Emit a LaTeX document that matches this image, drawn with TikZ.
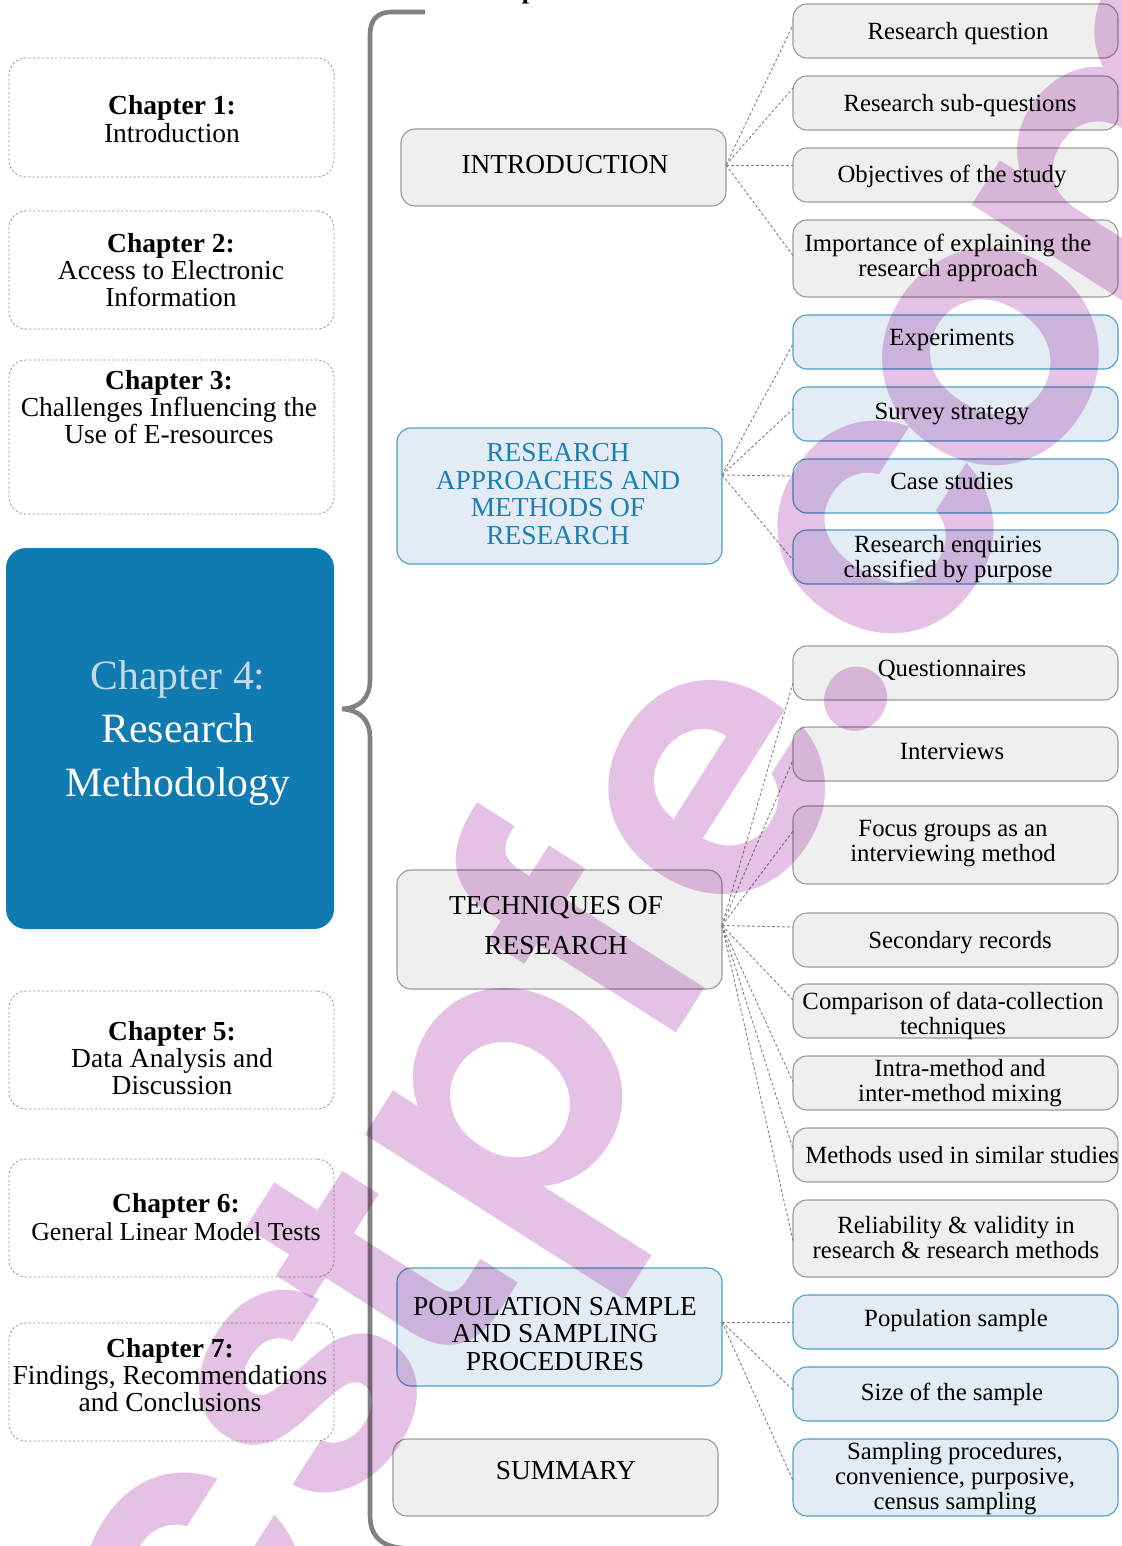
\documentclass[tikz,border=0pt]{standalone}
\usepackage{fontspec}
\setmainfont{Liberation Serif}
\newfontfamily\wmfont{Poppins SemiBold}
\usetikzlibrary{calc}
\definecolor{grayfill}{HTML}{EFEFEF}
\definecolor{grayline}{HTML}{9A9A9A}
\definecolor{bluefill}{HTML}{E3ECF5}
\definecolor{blueline}{HTML}{4C9FC9}
\definecolor{chapblue}{HTML}{0F7BB0}
\definecolor{headblue}{HTML}{1B7FB5}
\definecolor{chaplight}{HTML}{C6D8E4}
\definecolor{wmpink}{HTML}{E5C2E5}
\definecolor{bracegray}{HTML}{808080}
\tikzset{
  basebox/.style={rectangle,rounded corners=14pt,inner sep=0pt,outer sep=0pt,line width=1.1pt},
  graybox/.style={basebox,draw=grayline,fill=grayfill},
  bluebox/.style={basebox,draw=blueline,fill=bluefill},
  chapbox/.style={basebox,rounded corners=17pt,draw=grayline,line width=0.8pt,dash pattern=on 2.4pt off 2pt},
  mainbox/.style={basebox,rounded corners=20pt,fill=chapblue},
  leaf/.style={inner sep=0pt,align=center,font=\fontsize{24.75}{25}\selectfont},
  head/.style={inner sep=0pt,align=center,font=\fontsize{27.4}{27.5}\selectfont},
  chap/.style={inner sep=0pt,align=center,font=\fontsize{27.5}{27.3}\selectfont},
  bigchap/.style={inner sep=0pt,align=center,font=\fontsize{41.7}{53.5}\selectfont},
  link/.style={draw=gray,line width=0.9pt,dash pattern=on 2.8pt off 2.2pt},
  wmletter/.style={anchor=base,text=wmpink,inner sep=0pt,font=\fontsize{375}{375}\wmfont\selectfont},
}
\newcommand{\bx}[6]{\node[#2,minimum width={(#5-#3)*1pt},minimum height={(#6-#4)*1pt}] (#1) at ({(#3+#5)/2},{(#4+#6)/2}) {};}
\newcommand{\tx}[5]{\node[#4] (#1-t) at (#2,#3) {#5};}
\begin{document}
\begin{tikzpicture}[x=1pt,y=-1pt]
\useasboundingbox (0,0) rectangle (1121,1546);
\clip (0,0) rectangle (1121,1546);
\fill[white] (0,0) rectangle (1121,1546);
% top text
\node[anchor=base,inner sep=0pt,font=\fontsize{26}{26}\selectfont\bfseries] (toptitle) at (567,-1) {Chapter Outline};
% brace
\draw[bracegray,line width=4.6pt] (425,12) -- (392,12) .. controls (377,12) and (370,20) .. (370,35) -- (370,680) .. controls (370,698) and (360,708) .. (342,709) .. controls (360,710) and (370,720) .. (370,738) -- (370,1515) .. controls (370,1535) and (380,1546) .. (402,1548);
% left column
\bx{c1}{chapbox}{9}{58}{334}{177}\tx{c1}{172}{119}{chap}{\textbf{Chapter 1:}\\Introduction}
\bx{c2}{chapbox}{9}{211}{334}{329}\tx{c2}{171}{270}{chap}{\textbf{Chapter 2:}\\Access to Electronic\\Information}
\bx{c3}{chapbox}{9}{360}{334}{514}\tx{c3}{169}{407}{chap}{\textbf{Chapter 3:}\\Challenges Influencing the\\Use of E-resources}
\bx{c4}{mainbox}{6}{548}{334}{929}\tx{c4}{178}{733}{bigchap,text=white}{\textcolor{chaplight}{Chapter 4:}\\Research\\Methodology}
\bx{c5}{chapbox}{9}{991}{334}{1109}\tx{c5}{172}{1058}{chap}{\textbf{Chapter 5:}\\Data Analysis and\\Discussion}
\bx{c6}{chapbox}{9}{1159}{334}{1277}\tx{c6}{176}{1217}{chap}{\textbf{Chapter 6:}\\\fontsize{25.9}{27.3}\selectfont General Linear Model Tests}
\bx{c7}{chapbox}{9}{1323}{334}{1441}\tx{c7}{170}{1375}{chap}{\textbf{Chapter 7:}\\Findings, Recommendations\\and Conclusions}
% middle column
\bx{intro}{graybox}{401}{129}{726}{206}\tx{intro}{565}{165}{head}{INTRODUCTION}
\bx{appr}{bluebox}{397}{428}{722}{564}\tx{appr}{558}{494}{head,text=headblue}{RESEARCH\\APPROACHES AND\\METHODS OF\\RESEARCH}
\bx{tech}{graybox}{397}{870}{722}{989}\tx{tech}{556}{926}{head,font=\fontsize{27.4}{40}\selectfont}{TECHNIQUES OF\\RESEARCH}
\bx{popu}{bluebox}{397}{1268}{722}{1386}\tx{popu}{555}{1334}{head}{POPULATION SAMPLE\\AND SAMPLING\\PROCEDURES}
\bx{summ}{graybox}{393}{1439}{718}{1516}\tx{summ}{566}{1471}{head}{SUMMARY}
% right column
\bx{q1}{graybox}{793}{4}{1118}{58}\tx{q1}{958}{34}{leaf}{Research question}
\bx{q2}{graybox}{793}{76}{1118}{130}\tx{q2}{960}{106}{leaf}{Research sub-questions}
\bx{q3}{graybox}{793}{148}{1118}{202}\tx{q3}{952}{176}{leaf}{Objectives of the study}
\bx{q4}{graybox}{793}{220}{1118}{297}\tx{q4}{948}{258}{leaf}{Importance of explaining the\\research approach}
\bx{a1}{bluebox}{793}{315}{1118}{369}\tx{a1}{952}{340}{leaf}{Experiments}
\bx{a2}{bluebox}{793}{387}{1118}{441}\tx{a2}{952}{414}{leaf}{Survey strategy}
\bx{a3}{bluebox}{793}{459}{1118}{513}\tx{a3}{952}{481}{leaf}{Case studies}
\bx{a4}{bluebox}{793}{530}{1118}{584}\tx{a4}{948}{559}{leaf}{Research enquiries\\classified by purpose}
\bx{t1}{graybox}{793}{646}{1118}{700}\tx{t1}{952}{670}{leaf}{Questionnaires}
\bx{t2}{graybox}{793}{727}{1118}{781}\tx{t2}{952}{751}{leaf}{Interviews}
\bx{t3}{graybox}{793}{806}{1118}{884}\tx{t3}{953}{844}{leaf}{Focus groups as an\\interviewing method}
\bx{t4}{graybox}{793}{913}{1118}{967}\tx{t4}{960}{943}{leaf}{Secondary records}
\bx{t5}{graybox}{793}{984}{1118}{1038}\tx{t5}{953}{1016}{leaf}{Comparison of data-collection\\techniques}
\bx{t6}{graybox}{793}{1056}{1118}{1110}\tx{t6}{960}{1083}{leaf}{Intra-method and\\inter-method mixing}
\bx{t7}{graybox}{793}{1128}{1118}{1182}\tx{t7}{962}{1155}{leaf}{Methods used in similar studies}
\bx{t8}{graybox}{793}{1200}{1118}{1277}\tx{t8}{956}{1238}{leaf}{Reliability \& validity in\\research \& research methods}
\bx{p1}{bluebox}{793}{1295}{1118}{1349}\tx{p1}{956}{1321}{leaf}{Population sample}
\bx{p2}{bluebox}{793}{1367}{1118}{1421}\tx{p2}{952}{1394}{leaf}{Size of the sample}
\bx{p3}{bluebox}{793}{1439}{1118}{1516}\tx{p3}{955}{1479}{leaf}{Sampling procedures,\\convenience, purposive,\\census sampling}
% connectors
\draw[link] ([yshift=2.5pt]intro.east) -- ([yshift=6pt]q1.west);
\draw[link] ([yshift=2.5pt]intro.east) -- ([yshift=15pt]q2.west);
\draw[link] ([yshift=2.5pt]intro.east) -- ([yshift=10pt]q3.west);
\draw[link] ([yshift=2.5pt]intro.east) -- ([yshift=3pt]q4.west);
\draw[link] ([yshift=21pt]appr.east) -- ([yshift=-2pt]a1.west);
\draw[link] ([yshift=21pt]appr.east) -- ([yshift=5pt]a2.west);
\draw[link] ([yshift=21pt]appr.east) -- ([yshift=10pt]a3.west);
\draw[link] ([yshift=21pt]appr.east) -- ([yshift=-3pt]a4.west);
\draw[link] ([yshift=4pt]tech.east) -- ([yshift=-10pt]t1.west);
\draw[link] ([yshift=4pt]tech.east) -- ([yshift=-6pt]t2.west);
\draw[link] ([yshift=4pt]tech.east) -- ([yshift=14pt]t3.west);
\draw[link] ([yshift=4pt]tech.east) -- ([yshift=13pt]t4.west);
\draw[link] ([yshift=4pt]tech.east) -- ([yshift=11pt]t5.west);
\draw[link] ([yshift=4pt]tech.east) -- ([yshift=1pt]t6.west);
\draw[link] ([yshift=4pt]tech.east) -- ([yshift=6pt]t7.west);
\draw[link] ([yshift=4pt]tech.east) -- ([yshift=-2.5pt]t8.west);
\draw[link] ([yshift=5pt]popu.east) -- (p1.west);
\draw[link] ([yshift=5pt]popu.east) -- ([yshift=4pt]p2.west);
\draw[link] ([yshift=5pt]popu.east) -- ([yshift=-3pt]p3.west);
% watermark
\begin{scope}[blend mode=multiply,shift={(880,714)},rotate=57.5,transform shape]
\node[wmletter] (wa) at (-1101,-10) {c};
\node[wmletter] (wb) at (-878,-15) {s};
\node[wmletter] (wc) at (-735,0) {t};
\node[wmletter] (wd) at (-530,0) {p};
\node[wmletter] (we) at (-345,0) {f};
\node[wmletter] (wf) at (-150,6) {e};
\node[wmletter] (wg) at (0,0) {.};
\node[wmletter] (wh) at (158,8) {c};
\node[wmletter] (wi) at (361,6) {o};
\node[wmletter] (wj) at (649,12) {m};
\end{scope}
\end{tikzpicture}
\end{document}
